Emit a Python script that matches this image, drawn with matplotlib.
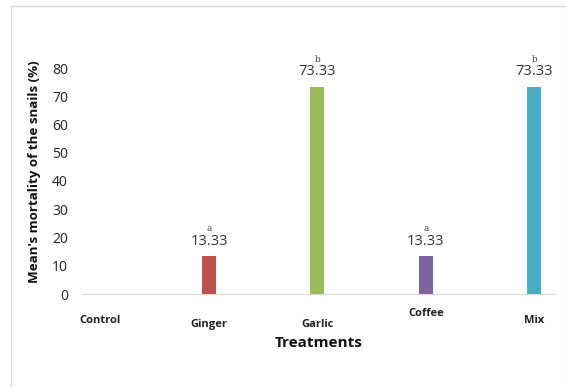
import matplotlib
matplotlib.use("Agg")
import matplotlib.pyplot as plt
from matplotlib.patches import Rectangle
from matplotlib.transforms import ScaledTranslation

categories = ["Control", "Ginger", "Garlic", "Coffee", "Mix"]
values = [0, 13.33, 73.33, 13.33, 73.33]
letters = ["", "a", "b", "a", "b"]
colors = ["#4F81BD", "#C0504D", "#9BBB59", "#8064A2", "#4BACC6"]
yticks = [0, 10, 20, 30, 40, 50, 60, 70, 80]

plt.rcParams['font.family'] = ['Open Sans', 'DejaVu Sans']

fig = plt.figure(figsize=(5.66, 3.87), dpi=100)
fig.patches.append(Rectangle((11/566, 0), 1 - 11/566, 1 - 6/387, transform=fig.transFigure,
                             fill=False, edgecolor="#d9d9d9", linewidth=1.0))
ax = fig.add_axes([82/566, 1 - 294/387, (555 - 82)/566, (294 - 68)/387])

x = list(range(len(categories)))
ax.bar(x, values, width=0.13, color=colors)
for xi, v, l in zip(x, values, letters):
    if v > 0:
        ax.text(xi, v + 2.6, f"{v:.2f}", ha="center", va="bottom", fontsize=10.5, color="#333333")
        ax.text(xi, v + 8.2, l, ha="center", va="bottom", fontsize=6.5, color="#444444",
                family="DejaVu Serif")

ax.set_xlim(-0.17, 4.19)
ax.set_ylim(0, 80)
ax.set_yticks(yticks)
ax.tick_params(axis="y", length=0, labelsize=10, pad=10, labelcolor="#222222")
ax.set_xticks(x)
ax.set_xticklabels(categories, fontsize=8, fontweight="bold", color="#222222")
ax.tick_params(axis="x", length=0, pad=15)
offsets = [0, -3, -3, 5, 0]
for lab, off in zip(ax.get_xticklabels(), offsets):
    lab.set_transform(lab.get_transform() + ScaledTranslation(0, off / 72, fig.dpi_scale_trans))

for s in ["top", "right", "left"]:
    ax.spines[s].set_visible(False)
ax.spines["bottom"].set_color("#d9d9d9")
ax.set_xlabel("Treatments", fontsize=11, fontweight="bold", color="#111111")
ax.xaxis.set_label_coords(0.5, -(343 - 294) / 226)
ax.set_ylabel("Mean's mortality of the snails (%)", fontsize=9.6, fontweight="bold", color="#111111")
ax.yaxis.set_label_coords(-(82 - 35) / 473, (294 - 172) / 226)
ax.yaxis.label.set_va("center")
ax.xaxis.label.set_va("center")

fig.savefig("out.png", dpi=100)
